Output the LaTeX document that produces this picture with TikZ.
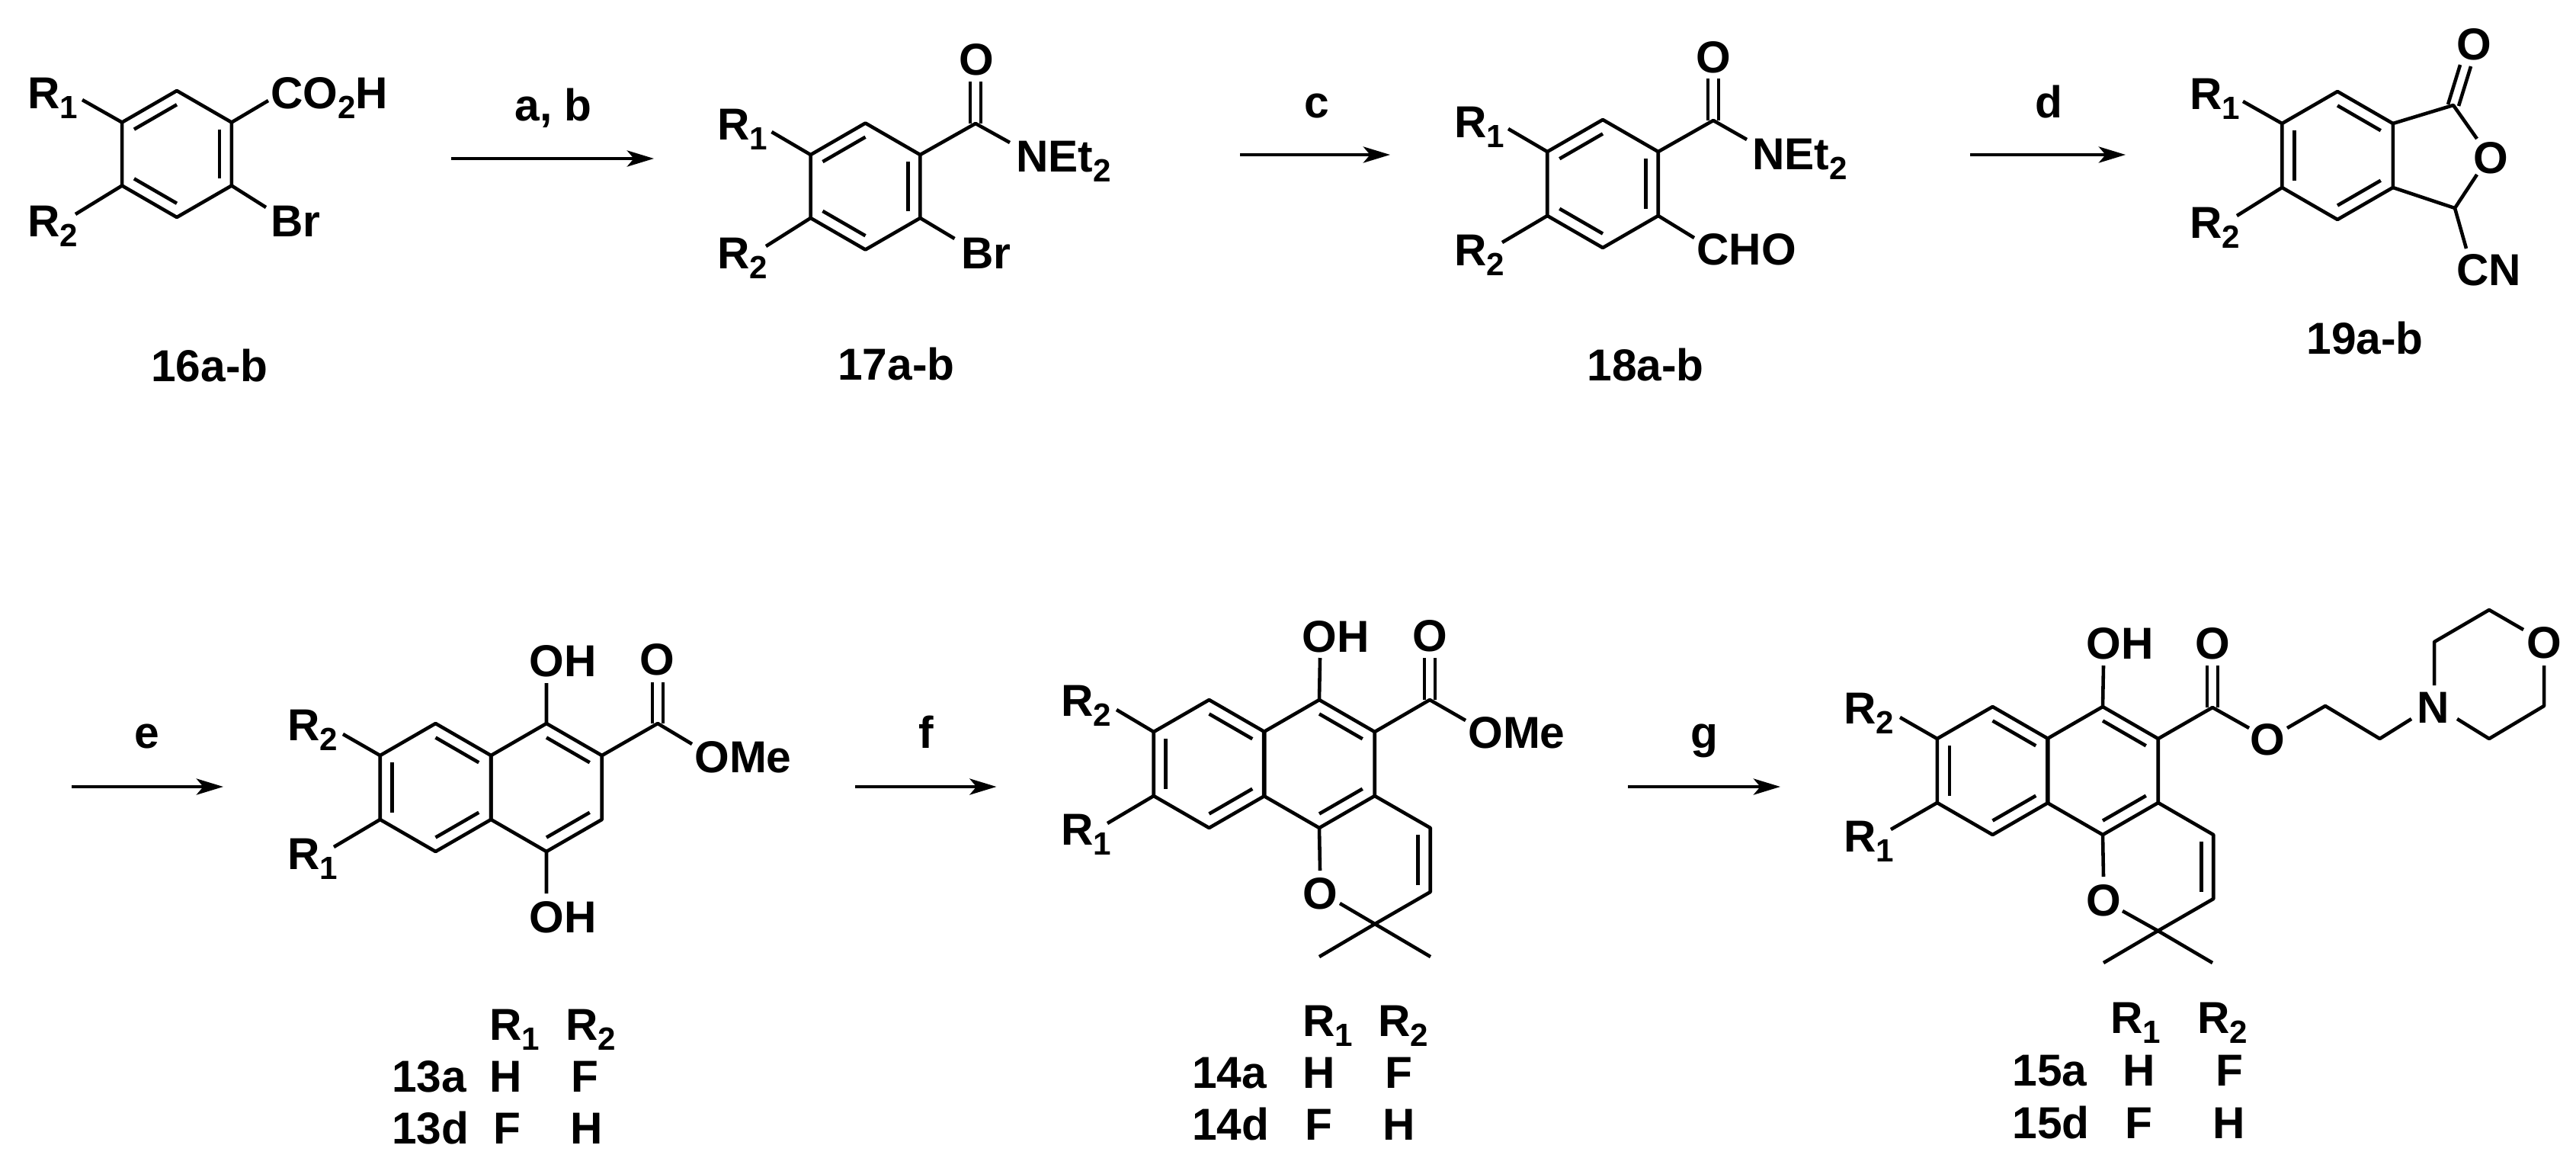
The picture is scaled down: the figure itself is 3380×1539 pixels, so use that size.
\documentclass[tikz,border=0pt]{standalone}
\usepackage{fontspec}
\setmainfont{Liberation Sans}
\usetikzlibrary{calc,arrows.meta}
\newcommand\subs[1]{\raisebox{-7.5pt}{\fontsize{24}{28}\selectfont #1}}
\newcommand\hexat[4]{%
  \coordinate (#1c) at (#2,#3);
  \coordinate (#1t) at ({#2},{#3-#4});
  \coordinate (#1ur) at ({#2+.866*#4},{#3-.5*#4});
  \coordinate (#1lr) at ({#2+.866*#4},{#3+.5*#4});
  \coordinate (#1b) at ({#2},{#3+#4});
  \coordinate (#1ll) at ({#2-.866*#4},{#3+.5*#4});
  \coordinate (#1ul) at ({#2-.866*#4},{#3-.5*#4});}
\newcommand\hexdraw[1]{\draw[bond] (#1t)--(#1ur)--(#1lr)--(#1b)--(#1ll)--(#1ul)--cycle;}
\newcommand\dbl[3]{\draw[bond] ($(#1)!.22!(#3)$)--($(#2)!.22!(#3)$);}
\newcommand\twin[4]{\draw[bond] ($(#1)+(#3,#4)$)--($(#2)+(#3,#4)$) ($(#1)-(#3,#4)$)--($(#2)-(#3,#4)$);}
\newcommand\tl[4]{\node[lab,anchor=base west] (#1) at (#2,#3) {#4};}
\newcommand\tc[4]{\node[lab,anchor=base] (#1) at (#2,#3) {#4};}
\newcommand\pt[3]{\coordinate (#1) at (#2,#3);}
\tikzset{
  bond/.style={line width=2.6pt,line join=round,black},
  rxn/.style={line width=2.5pt,-{Stealth[length=20pt,width=12pt,inset=5pt]}},
  lab/.style={inner sep=0pt,font=\fontsize{33.4}{40}\selectfont\bfseries},
}
\begin{document}
\begin{tikzpicture}[x=0.02cm,y=-0.02cm]
\useasboundingbox (0,0) rectangle (3380,1539);
% ---------- 16
\hexat{a}{232}{202}{83}\hexdraw{a}
\dbl{aul}{at}{ac}\dbl{aur}{alr}{ac}\dbl{all}{ab}{ac}
\pt{a1}{108}{131}\pt{a2}{99}{281}\pt{a3}{352}{132}\pt{a4}{349}{272}
\draw[bond] (aul)--(a1) (all)--(a2) (aur)--(a3) (alr)--(a4);
\tl{ar1}{36}{142}{R\subs{1}}\tl{ar2}{36}{310}{R\subs{2}}
\tl{aco}{355}{142}{CO\subs{2}H}\tl{abr}{355}{310}{Br}
\tc{alab}{275}{500}{16a-b}
% arrow a,b
\pt{s1}{592}{208}\pt{e1}{858}{208}\draw[rxn] (s1)--(e1);
\tc{t1}{726}{158}{a, b}
% ---------- 17
\hexat{b}{1135.5}{244.5}{83}\hexdraw{b}
\dbl{bul}{bt}{bc}\dbl{bur}{blr}{bc}\dbl{bll}{bb}{bc}
\pt{b1}{1012.5}{173}\pt{b2}{1005}{323}\pt{b4}{1252.5}{313}\pt{bk}{1280}{162}\pt{bo}{1280}{107}\pt{bn}{1325}{187}
\draw[bond] (bul)--(b1) (bll)--(b2) (blr)--(b4) (bur)--(bk)--(bn);
\twin{bk}{bo}{7}{0}
\tl{br1}{941}{183}{R\subs{1}}\tl{br2}{941}{352}{R\subs{2}}
\tl{bbr}{1261}{352}{Br}\tc{boo}{1281}{98}{O}\tl{bnn}{1333}{225}{NEt\subs{2}}
\tc{blab}{1176}{498}{17a-b}
% arrow c
\pt{s2}{1627}{203}\pt{e2}{1824}{203}\draw[rxn] (s2)--(e2);
\tc{t2}{1728}{154}{c}
% ---------- 18
\hexat{c}{2103}{241}{84}\hexdraw{c}
\dbl{cul}{ct}{cc}\dbl{cur}{clr}{cc}\dbl{cll}{cb}{cc}
\pt{c1}{1979}{169}\pt{c2}{1971}{318}\pt{c4}{2223}{312}\pt{ck}{2248}{158}\pt{co}{2248}{103}\pt{cn}{2292}{183}
\draw[bond] (cul)--(c1) (cll)--(c2) (clr)--(c4) (cur)--(ck)--(cn);
\twin{ck}{co}{7}{0}
\tl{cr1}{1908}{180}{R\subs{1}}\tl{cr2}{1908}{348}{R\subs{2}}
\tl{ccho}{2226}{347}{CHO}\tc{coo}{2248}{95}{O}\tl{cnn}{2299}{222}{NEt\subs{2}}
\tc{clab}{2159}{499}{18a-b}
% arrow d
\pt{s3}{2585}{203}\pt{e3}{2789}{203}\draw[rxn] (s3)--(e3);
\tc{t3}{2688}{154}{d}
% ---------- 19
\hexat{d}{3067}{204}{84}\hexdraw{d}
\dbl{dul}{dll}{dc}\dbl{dt}{dur}{dc}\dbl{dlr}{db}{dc}
\pt{d1}{2943}{133}\pt{d2}{2935}{283}\pt{dk}{3219}{138}\pt{dx}{3250}{182}\pt{dy}{3250}{229}\pt{dm}{3221}{273}\pt{dn}{3236}{326}
\pt{du}{3235}{86}
\draw[bond] (dul)--(d1) (dll)--(d2) (dur)--(dk)--(dx) (dy)--(dm)--(dlr) (dm)--(dn);
\twin{dk}{du}{7}{1}
\tl{dr1}{2873}{143}{R\subs{1}}\tl{dr2}{2873}{312}{R\subs{2}}
\tc{doo}{3246}{78}{O}\tc{dor}{3268}{227}{O}\tl{dcn}{3223}{374}{CN}
\tc{dlab}{3103}{464}{19a-b}
% arrow e
\pt{s4}{94}{1032}\pt{e4}{293}{1032}\draw[rxn] (s4)--(e4);
\tc{t4}{193}{981}{e}
% ---------- 13
\hexat{e}{571.5}{1033}{84}\hexat{f}{717}{1033}{84}\hexdraw{e}\hexdraw{f}
\dbl{eul}{ell}{ec}\dbl{et}{eur}{ec}\dbl{elr}{eb}{ec}\dbl{ft}{fur}{fc}\dbl{flr}{fb}{fc}
\pt{e1a}{438}{1111}\pt{e2a}{450}{963}\pt{fo1}{717}{896}\pt{fo2}{717}{1172}\pt{fk}{863}{949}\pt{fo}{863}{895}\pt{fm}{908}{976}
\draw[bond] (eul)--(e2a) (ell)--(e1a) (ft)--(fo1) (fb)--(fo2) (fur)--(fk)--(fm);
\twin{fk}{fo}{7}{0}
\tl{er2}{377}{971}{R\subs{2}}\tl{er1}{377}{1140}{R\subs{1}}
\tl{foh1}{694}{887}{OH}\tl{foh2}{694}{1223}{OH}\tc{foo}{862}{885}{O}\tl{fme}{911}{1013}{OMe}
\tl{gr1}{642}{1364}{R\subs{1}}\tl{gr2}{742}{1364}{R\subs{2}}
\tl{g1}{514}{1432}{13a}\tl{gh1}{642}{1432}{H}\tl{gf1}{749}{1432}{F}
\tl{g2}{514}{1500}{13d}\tl{gf2}{647}{1500}{F}\tl{gh2}{748}{1500}{H}
% arrow f
\pt{s5}{1122}{1032}\pt{e5}{1307.5}{1032}\draw[rxn] (s5)--(e5);
\tc{t5}{1215}{981}{f}
% ---------- 14
\hexat{h}{1586.5}{1002}{84}\hexat{i}{1731}{1002}{84}\hexat{j}{1804}{1128}{84}\hexdraw{h}\hexdraw{i}
\dbl{hul}{hll}{hc}\dbl{ht}{hur}{hc}\dbl{hlr}{hb}{hc}\dbl{it}{iur}{ic}\dbl{ilr}{ib}{ic}\dbl{jur}{jlr}{jc}
\pt{h1}{1453}{1080}\pt{h2}{1465}{931}\pt{io}{1732}{863}\pt{ik}{1876}{918}\pt{iko}{1876}{863}\pt{im}{1923}{945}
\pt{jo}{1732}{1142}\pt{jx}{1758}{1185}\pt{jm1}{1731}{1255}\pt{jm2}{1877}{1255}
\draw[bond] (hul)--(h2) (hll)--(h1) (it)--(io) (iur)--(ik)--(im);
\twin{ik}{iko}{7}{0}
\draw[bond] (ilr)--(jur)--(jlr)--(jb)--(jx) (ib)--(jo) (jb)--(jm1) (jb)--(jm2);
\tl{hr2}{1392}{939}{R\subs{2}}\tl{hr1}{1392}{1108}{R\subs{1}}
\tl{ioh}{1708}{855}{OH}\tc{ioo}{1876}{854}{O}\tl{ime}{1926}{981}{OMe}\tc{joo}{1732}{1192}{O}
\tl{kr1}{1709}{1359}{R\subs{1}}\tl{kr2}{1808}{1359}{R\subs{2}}
\tl{k1}{1564}{1427}{14a}\tl{kh1}{1709}{1427}{H}\tl{kf1}{1817}{1427}{F}
\tl{k2}{1564}{1495}{14d}\tl{kf2}{1712}{1495}{F}\tl{kh2}{1814}{1495}{H}
% arrow g
\pt{s6}{2136}{1032}\pt{e6}{2336}{1032}\draw[rxn] (s6)--(e6);
\tc{t6}{2236}{981}{g}
% ---------- 15
\hexat{l}{2614.5}{1011}{84}\hexat{m}{2759}{1011}{84}\hexat{n}{2831.5}{1137}{84}\hexdraw{l}\hexdraw{m}
\dbl{lul}{lll}{lc}\dbl{lt}{lur}{lc}\dbl{llr}{lb}{lc}\dbl{mt}{mur}{mc}\dbl{mlr}{mb}{mc}\dbl{nur}{nlr}{nc}
\pt{l1}{2481}{1088}\pt{l2}{2493}{941}\pt{mo}{2760}{873}\pt{mk}{2903}{928}\pt{mko}{2903}{873}\pt{me}{2951}{955}
\pt{no}{2760}{1150}\pt{nx}{2785}{1195}\pt{nm1}{2760}{1263}\pt{nm2}{2903}{1263}
\draw[bond] (lul)--(l2) (lll)--(l1) (mt)--(mo) (mur)--(mk)--(me);
\twin{mk}{mko}{7}{0}
\draw[bond] (mlr)--(nur)--(nlr)--(nb)--(nx) (mb)--(no) (nb)--(nm1) (nb)--(nm2);
\pt{q1}{3001}{955}\pt{q2}{3051}{926}\pt{q3}{3122.5}{969}\pt{q4}{3164}{943}
\draw[bond] (q1)--(q2)--(q3)--(q4);
\pt{r1}{3194}{899}\pt{r2}{3194}{842}\pt{r3}{3266}{800}\pt{r4}{3311}{826}\pt{r5}{3338}{873}\pt{r6}{3338}{926}\pt{r7}{3266}{969}\pt{r8}{3224}{943}
\draw[bond] (r1)--(r2)--(r3)--(r4) (r5)--(r6)--(r7)--(r8);
\tl{lr2}{2419}{949}{R\subs{2}}\tl{lr1}{2419}{1117}{R\subs{1}}
\tl{moh}{2737}{864}{OH}\tc{moo}{2903}{864}{O}\tc{meo}{2975}{990}{O}\tc{noo}{2760}{1201}{O}
\tc{rn}{3193}{948}{N}\tc{ro}{3338}{863}{O}
\tl{tr1}{2769}{1355}{R\subs{1}}\tl{tr2}{2883}{1355}{R\subs{2}}
\tl{u1}{2640}{1424}{15a}\tl{uh1}{2785}{1424}{H}\tl{uf1}{2907}{1424}{F}
\tl{u2}{2640}{1493}{15d}\tl{uf2}{2788}{1493}{F}\tl{uh2}{2903}{1493}{H}
\end{tikzpicture}
\end{document}
